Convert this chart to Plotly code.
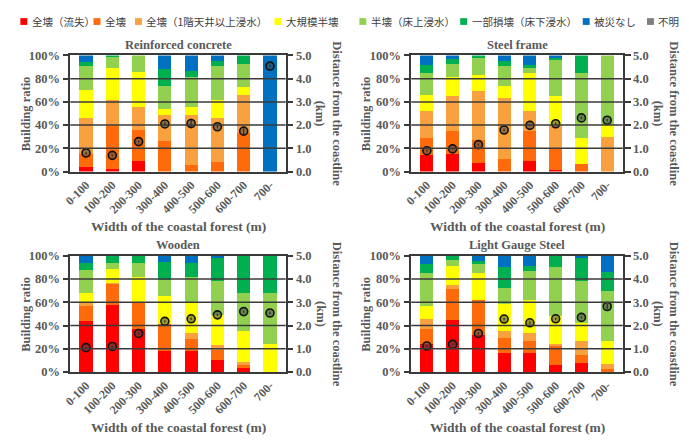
import plotly.graph_objects as go

W, H = 689, 441

categories = ["0-100", "100-200", "200-300", "300-400", "400-500", "500-600", "600-700", "700-"]
ratio_ticks = [0, 20, 40, 60, 80, 100]
ratio_tick_labels = ["0%", "20%", "40%", "60%", "80%", "100%"]
dist_ticks = [0, 1, 2, 3, 4, 5]
dist_tick_labels = ["0.0", "1.0", "2.0", "3.0", "4.0", "5.0"]
damage_labels = ["全壊（流失）", "全壊", "全壊（1階天井以上浸水）", "大規模半壊",
                 "半壊（床上浸水）", "一部損壊（床下浸水）", "被災なし", "不明"]
damage_colors = ["#FF0000", "#FF6A0A", "#F9A03F", "#FFFF00",
                 "#92D050", "#00B050", "#0070C0", "#7F7F7F"]
panel_titles = ["Reinforced concrete", "Steel frame", "Wooden", "Light Gauge Steel"]

# Reinforced concrete (%)
rc_washed = [4, 2.5, 8.7, 0, 0, 0, 0, 0]
rc_total = [11, 37, 27.3, 26, 6, 8, 33, 0]
rc_total_ceiling = [31, 22.5, 19.5, 23, 43, 38, 33, 0]
rc_large_half = [24, 27, 30.5, 5, 7, 16, 7, 0]
rc_half = [21, 9.5, 14, 20, 25, 28.5, 20, 0]
rc_partial = [3.5, 1.5, 0, 14, 6, 5, 7, 0]
rc_none = [5.5, 0, 0, 12, 13, 4.5, 0, 100]
rc_unknown = [0, 0, 0, 0, 0, 0, 0, 0]
rc_distance = [0.8, 0.7, 1.29, 2.05, 2.07, 1.93, 1.74, 4.54]
rc_dist_err = [0.04, 0.04, 0.04, 0.1, 0.2, 0.08, 0.12, 0.04]

# Steel frame (%)
sf_washed = [14, 15, 7, 0, 9.5, 1, 0, 0]
sf_total = [15, 20, 20, 11, 25.5, 18.6, 6.7, 0]
sf_total_ceiling = [23, 30.5, 42, 52, 17, 20.4, 0, 30]
sf_large_half = [14, 15.5, 14, 11, 33, 25, 22.3, 10]
sf_half = [18.6, 12, 15, 17, 4.5, 31, 56, 60]
sf_partial = [7, 4, 2, 4, 2, 2, 15, 0]
sf_none = [8.4, 3, 0, 5, 8.5, 2, 0, 0]
sf_unknown = [0, 0, 0, 0, 0, 0, 0, 0]
sf_distance = [0.9, 0.98, 1.16, 1.79, 1.99, 2.06, 2.31, 2.21]
sf_dist_err = [0.04, 0.04, 0.04, 0.05, 0.05, 0.05, 0.05, 0.05]

# Wooden (%)
wd_washed = [44, 57.8, 36.9, 18.4, 17.9, 10.3, 3.4, 0]
wd_total = [12.7, 18.2, 22.1, 22.6, 10.6, 8.4, 2.6, 0]
wd_total_ceiling = [4, 1, 0, 0, 5.5, 4.3, 3, 0]
wd_large_half = [7.4, 12, 22.5, 24.6, 25, 26.4, 26.5, 24.3]
wd_half = [20, 4.6, 12.1, 13.2, 22.5, 28.6, 32.5, 43.7]
wd_partial = [5.6, 6.4, 6.4, 15.9, 12.1, 19.8, 32, 32]
wd_none = [6.4, 0, 0, 5.3, 6.4, 2.2, 0, 0]
wd_unknown = [0, 0, 0, 0, 0, 0, 0, 0]
wd_distance = [1.05, 1.1, 1.66, 2.18, 2.29, 2.46, 2.6, 2.54]
wd_dist_err = [0.04, 0.04, 0.04, 0.05, 0.05, 0.05, 0.05, 0.05]

# Light Gauge Steel (%)
lg_washed = [24.3, 44.7, 31.8, 16.5, 16, 6, 7.5, 0]
lg_total = [12.6, 27.1, 30.2, 12.8, 11, 17, 7, 3]
lg_total_ceiling = [8.9, 3.2, 0, 6.2, 7, 1.3, 11.8, 3.7]
lg_large_half = [11.2, 16.3, 23, 23.2, 28, 23.7, 16.2, 19.8]
lg_half = [28, 4.7, 7.7, 13.6, 24.6, 42.8, 35.5, 43.5]
lg_partial = [7.7, 4, 2.8, 18.5, 4.7, 9.2, 20.3, 16.3]
lg_none = [7.3, 0, 4.5, 9.2, 8.7, 0, 1.7, 13.7]
lg_unknown = [0, 0, 0, 0, 0, 0, 0, 0]
lg_distance = [1.12, 1.19, 1.66, 2.28, 2.12, 2.29, 2.35, 2.82]
lg_dist_err = [0.04, 0.04, 0.04, 0.05, 0.05, 0.05, 0.05, 0.12]

panels = [
    [rc_washed, rc_total, rc_total_ceiling, rc_large_half, rc_half, rc_partial, rc_none, rc_unknown],
    [sf_washed, sf_total, sf_total_ceiling, sf_large_half, sf_half, sf_partial, sf_none, sf_unknown],
    [wd_washed, wd_total, wd_total_ceiling, wd_large_half, wd_half, wd_partial, wd_none, wd_unknown],
    [lg_washed, lg_total, lg_total_ceiling, lg_large_half, lg_half, lg_partial, lg_none, lg_unknown],
]
distances = [rc_distance, sf_distance, wd_distance, lg_distance]
dist_errs = [rc_dist_err, sf_dist_err, wd_dist_err, lg_dist_err]

# layout geometry (pixels)
x_px = [(63, 281), (408, 622), (63, 281), (408, 622)]
y_px = [(50, 170), (50, 170), (257, 377), (257, 377)]

def px_x(v):
    return v / W

def px_y(v):
    return 1 - v / H

def bold(labels):
    return [f"<b>{t}</b>" for t in labels]

SERIF = "Liberation Serif"
GRAY = "#595959"
LINE = "#3A3A3A"

fig = go.Figure()

for p in range(4):
    xa = "x" if p == 0 else f"x{p + 1}"
    ya = "y" if p == 0 else f"y{p + 1}"
    ya2 = f"y{p + 5}"
    for k in range(8):
        fig.add_trace(go.Bar(
            x=categories, y=panels[p][k], name=damage_labels[k],
            marker=dict(color=damage_colors[k], line=dict(width=0)),
            xaxis=xa, yaxis=ya, showlegend=False,
        ))
    fig.add_trace(go.Scatter(
        x=categories, y=distances[p], mode="markers",
        marker=dict(size=8, color="rgba(70,70,70,0.55)", line=dict(color="#111111", width=1.6)),
        error_y=dict(type="data", array=dist_errs[p], color="#111111", thickness=1.2, width=0),
        xaxis=xa, yaxis=ya2, showlegend=False,
    ))

tickfont = dict(family=SERIF, size=12.5, color=GRAY)
layout = dict(
    width=W, height=H, autosize=False,
    margin=dict(l=0, r=0, t=0, b=0),
    paper_bgcolor="white", plot_bgcolor="white",
    barmode="stack", bargap=0.5,
    showlegend=False,
)
for p in range(4):
    xk = "xaxis" if p == 0 else f"xaxis{p + 1}"
    yk = "yaxis" if p == 0 else f"yaxis{p + 1}"
    y2k = f"yaxis{p + 5}"
    xa = "x" if p == 0 else f"x{p + 1}"
    ya = "y" if p == 0 else f"y{p + 1}"
    layout[xk] = dict(
        domain=[px_x(x_px[p][0]), px_x(x_px[p][1])], anchor=ya,
        tickmode="array", tickvals=categories, ticktext=bold(categories),
        tickangle=-45, tickfont=dict(family=SERIF, size=12, color=GRAY),
        showline=True, linecolor=LINE, linewidth=1.5, mirror=True,
        ticks="", showgrid=False, fixedrange=True,
    )
    layout[yk] = dict(
        domain=[px_y(y_px[p][1]), px_y(y_px[p][0])], anchor=xa,
        range=[0, 100], tickmode="array", tickvals=ratio_ticks, ticktext=bold(ratio_tick_labels),
        tickfont=tickfont, showgrid=False,
        showline=True, linecolor=LINE, linewidth=1.5,
        ticks="outside", ticklen=6, tickcolor=LINE, tickwidth=1.5,
    )
    layout[y2k] = dict(
        overlaying=ya, anchor=xa, side="right",
        range=[0, 5], tickmode="array", tickvals=dist_ticks, ticktext=bold(dist_tick_labels),
        tickfont=tickfont, showgrid=False,
        showline=True, linecolor=LINE, linewidth=1.5,
        ticks="outside", ticklen=6, tickcolor=LINE, tickwidth=1.5,
    )
fig.update_layout(**layout)

# gridlines drawn above the bars
shapes = []
for p in range(4):
    xa = "x" if p == 0 else f"x{p + 1}"
    ya = "y" if p == 0 else f"y{p + 1}"
    for g in [20, 40, 60, 80]:
        shapes.append(dict(type="line", xref=f"{xa} domain", yref=ya,
                           x0=0, x1=1, y0=g, y1=g, layer="above",
                           line=dict(color=LINE, width=1.5)))

annotations = []
for p in range(4):
    cx = px_x((x_px[p][0] + x_px[p][1]) / 2)
    top, bot = y_px[p]
    annotations.append(dict(text=f"<b>{panel_titles[p]}</b>", x=cx, y=px_y(top - 11),
                            xref="paper", yref="paper", showarrow=False,
                            xanchor="center", yanchor="middle",
                            font=dict(family=SERIF, size=12.5, color=GRAY)))
    annotations.append(dict(text="<b>Width of the coastal forest (m)</b>", x=cx, y=px_y(bot + 57),
                            xref="paper", yref="paper", showarrow=False,
                            xanchor="center", yanchor="middle",
                            font=dict(family=SERIF, size=13.5, color=GRAY)))
    lx = 18 if x_px[p][0] < 100 else 362
    annotations.append(dict(text="<b>Building ratio</b>", x=px_x(lx), y=px_y((top + bot) / 2),
                            xref="paper", yref="paper", showarrow=False, textangle=-90,
                            xanchor="center", yanchor="middle",
                            font=dict(family=SERIF, size=12.5, color=GRAY)))
    rx = x_px[p][1] + 44
    annotations.append(dict(text="<b>Distance from the coastline<br>(km)</b>", x=px_x(rx),
                            y=px_y((top + bot) / 2),
                            xref="paper", yref="paper", showarrow=False, textangle=90,
                            xanchor="center", yanchor="middle",
                            font=dict(family=SERIF, size=12.5, color=GRAY)))

# legend drawn as squares + text
leg_sq = [16, 90, 132, 273, 359, 461, 585, 650]
leg_y = 15
for k in range(8):
    shapes.append(dict(type="rect", xref="paper", yref="paper",
                       x0=px_x(leg_sq[k] - 3.5), x1=px_x(leg_sq[k] + 3.5),
                       y0=px_y(leg_y + 3.5), y1=px_y(leg_y - 3.5),
                       fillcolor=damage_colors[k], line=dict(width=0)))
    annotations.append(dict(text=damage_labels[k], x=px_x(leg_sq[k] + 6), y=px_y(leg_y),
                            xref="paper", yref="paper", showarrow=False,
                            xanchor="left", yanchor="middle",
                            font=dict(family="Noto Sans CJK JP", size=10.5, color="#404040")))

fig.update_layout(shapes=shapes, annotations=annotations)

fig.write_html("out.html", config={"displayModeBar": False},
               post_script="document.body.style.margin='0';")
